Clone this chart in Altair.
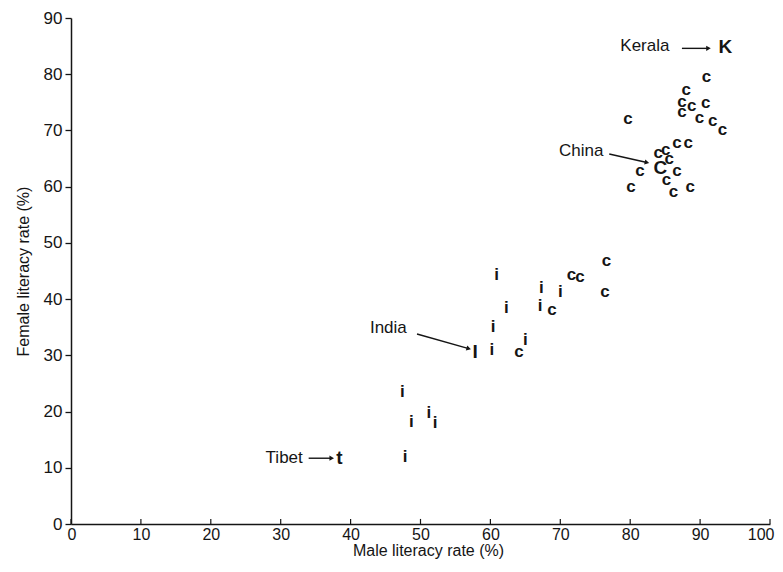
import altair as alt
import pandas as pd

# ---- data ----
c_x = [90.9, 88.0, 87.4, 88.8, 90.8, 87.4, 89.9, 91.8, 93.2, 79.7,
       84.0, 85.1, 86.7, 88.3, 85.6, 86.7, 85.2, 86.2, 88.6, 81.4, 80.1,
       71.6, 72.8, 76.6, 76.4, 68.8, 64.1]
c_y = [79.5, 77.2, 75.1, 74.4, 74.9, 73.3, 72.3, 71.6, 70.0, 72.0,
       66.0, 66.6, 67.7, 67.8, 64.9, 62.7, 61.2, 59.1, 60.0, 62.8, 60.0,
       44.3, 44.0, 46.7, 41.3, 38.1, 30.6]

i_x = [60.9, 67.3, 70.0, 62.3, 67.1, 60.4, 60.2, 65.0, 47.4, 48.7, 51.2, 52.1, 47.8]
i_y = [44.3, 41.9, 41.3, 38.4, 38.7, 35.0, 31.0, 32.7, 23.4, 18.2, 19.7, 17.9, 11.9]

sp_letter = ["K", "C", "I", "t"]
sp_x = [93.6, 84.3, 57.8, 38.4]
sp_y = [84.9, 63.3, 30.6, 11.7]

ann_text = ["Kerala", "China", "India", "Tibet"]
ann_x = [82.1, 73.0, 45.4, 30.5]
ann_y = [85.0, 66.4, 34.9, 11.7]
arr_x1 = [87.4, 77.0, 49.5, 34.0]
arr_y1 = [84.6, 65.8, 33.8, 11.7]
arr_x2 = [91.2, 82.4, 56.9, 37.3]
arr_y2 = [84.6, 64.3, 31.2, 11.7]
arr_ang = [0, 13, 16, 0]

x_ticks = [0, 10, 20, 30, 40, 50, 60, 70, 80, 90, 100]
y_ticks = [0, 10, 20, 30, 40, 50, 60, 70, 80, 90]

FONT = "Liberation Sans"
INK = "#151515"

df_c = pd.DataFrame({"x": c_x, "y": c_y, "t": ["c"] * len(c_x)})
df_i = pd.DataFrame({"x": i_x, "y": i_y, "t": ["i"] * len(i_x)})
df_sp = pd.DataFrame({"x": sp_x, "y": sp_y, "t": sp_letter})
df_ann = pd.DataFrame({"x": ann_x, "y": ann_y, "t": ann_text,
                       "x1": arr_x1, "y1": arr_y1, "x2": arr_x2, "y2": arr_y2,
                       "ang": arr_ang})
df_xt = pd.DataFrame({"x": x_ticks, "y0": [0] * len(x_ticks), "y1": [0.9] * len(x_ticks)})

xs = alt.Scale(domain=[0, 100], nice=False, zero=False)
ys = alt.Scale(domain=[0, 90], nice=False, zero=False)

X = alt.X("x:Q", scale=xs,
          axis=alt.Axis(values=x_ticks, title="Male literacy rate (%)", ticks=False,
                        grid=False, labelPadding=2, titlePadding=0,
                        labelFlush=True, labelFlushOffset=4,
                        titleX=357, titleAnchor="middle"))
Y = alt.Y("y:Q", scale=ys,
          axis=alt.Axis(values=y_ticks, title="Female literacy rate (%)", tickSize=6,
                        grid=False, labelPadding=3, titlePadding=12, labelFontSize=17,
                        labelFlush=False))

c_layer = alt.Chart(df_c).mark_text(font=FONT, fontSize=17, fontWeight="bold",
                                    color=INK, baseline="middle").encode(
    x=X, y=Y, text="t:N")
i_layer = alt.Chart(df_i).mark_text(font=FONT, fontSize=17, fontWeight="bold",
                                    color=INK, baseline="middle").encode(
    x="x:Q", y="y:Q", text="t:N")
sp_layer = alt.Chart(df_sp).mark_text(font=FONT, fontSize=19, fontWeight="bold",
                                      color=INK, baseline="middle").encode(
    x="x:Q", y="y:Q", text="t:N")
ann_layer = alt.Chart(df_ann).mark_text(font=FONT, fontSize=17, color=INK,
                                        baseline="middle").encode(
    x="x:Q", y="y:Q", text="t:N")
shaft = alt.Chart(df_ann).mark_rule(color=INK, strokeWidth=1.4).encode(
    x="x1:Q", y="y1:Q", x2="x2:Q", y2="y2:Q")
head = alt.Chart(df_ann).mark_point(shape="triangle-right", filled=True, size=28,
                                    color=INK, opacity=1).encode(
    x="x2:Q", y="y2:Q", angle=alt.Angle("ang:Q", scale=None))
xtick = alt.Chart(df_xt).mark_rule(color=INK, strokeWidth=1.2).encode(
    x="x:Q", y="y0:Q", y2="y1:Q")

chart = alt.layer(xtick, shaft, head, ann_layer, c_layer, i_layer, sp_layer).properties(
    width=699, height=506,
    autosize=alt.AutoSizeParams(type="none"),
    padding={"left": 63, "top": 10, "right": 5, "bottom": 36},
    background="white",
).configure_view(stroke=None).configure_axis(
    domainColor=INK, domainWidth=1.5, tickColor=INK, tickWidth=1.3,
    labelFont=FONT, labelFontSize=16, labelColor=INK,
    titleFont=FONT, titleFontSize=16, titleFontWeight="normal", titleColor=INK,
)

chart.save("out.html", embed_options={"renderer": "svg", "actions": False})
